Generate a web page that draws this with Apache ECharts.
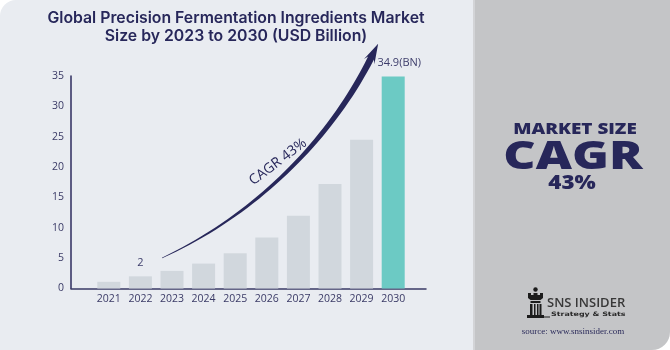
<!DOCTYPE html>
<html>
<head>
<meta charset="utf-8">
<script src="https://cdn.jsdelivr.net/npm/echarts@6/dist/echarts.min.js"></script>
<style>
  html, body { margin: 0; padding: 0; background: #ffffff; }
  #wrap { position: relative; width: 670px; height: 350px; overflow: hidden; }
  .panel-left { position: absolute; left: 0; top: 0; width: 473px; height: 350px; background: #e9ecf1; border-top-left-radius: 16px; }
  .panel-edge { position: absolute; left: 473px; top: 0; width: 2px; height: 350px; background: #d3d4d7; }
  .panel-right { position: absolute; left: 475px; top: 0; width: 195px; height: 350px; background: #c4c5c7; border-bottom-right-radius: 18px; }
  #chart { position: absolute; left: 0; top: 0; width: 670px; height: 350px; }
</style>
</head>
<body>
<div id="wrap">
  <div class="panel-left"></div>
  <div class="panel-edge"></div>
  <div class="panel-right"></div>
  <div id="chart"></div>
</div>
<script>
// Market size by year, USD billion
const years = ['2021', '2022', '2023', '2024', '2025', '2026', '2027', '2028', '2029', '2030'];
const marketSize = [1.1, 2, 2.9, 4.1, 5.8, 8.4, 12.0, 17.2, 24.5, 34.9];
// Years whose bar carries a value label, and how the label reads
const labelledYears = { '2022': '2', '2030': '34.9(BN)' };
const highlightYear = '2030';
const yMin = 0, yMax = 35, yStep = 5;

const navy = '#27275a';
const barGray = '#d1d7dd';
const teal = '#6ccac4';

const chart = echarts.init(document.getElementById('chart'), null, { renderer: 'canvas' });

const barData = marketSize.map((v, i) => {
  const y = years[i];
  const item = { value: v, itemStyle: { color: y === highlightYear ? teal : barGray } };
  if (labelledYears[y]) {
    item.label = {
      show: true,
      position: 'top',
      distance: 8,
      offset: y === highlightYear ? [6, 0] : [0, 0],
      formatter: labelledYears[y],
      color: '#3d3d6b',
      fontSize: 11,
      fontFamily: 'Open Sans'
    };
  }
  return item;
});

// Tapered growth arrow drawn as a polygon along a cubic curve
function cubic(p0, p1, p2, p3, t) {
  const u = 1 - t;
  return [
    u*u*u*p0[0] + 3*u*u*t*p1[0] + 3*u*t*t*p2[0] + t*t*t*p3[0],
    u*u*u*p0[1] + 3*u*u*t*p1[1] + 3*u*t*t*p2[1] + t*t*t*p3[1]
  ];
}
function arrowPolygon() {
  const p0 = [162, 258], p1 = [255, 215], p2 = [330, 140], p3 = [371, 58];
  const left = [], right = [];
  const n = 40;
  for (let i = 0; i <= n; i++) {
    const t = i / n;
    const a = cubic(p0, p1, p2, p3, Math.max(0, t - 0.01));
    const b = cubic(p0, p1, p2, p3, Math.min(1, t + 0.01));
    let dx = b[0] - a[0], dy = b[1] - a[1];
    const len = Math.hypot(dx, dy) || 1;
    dx /= len; dy /= len;
    const nx = -dy, ny = dx;
    const hw = 0.3 + 3.0 * Math.pow(t, 0.9);
    const p = cubic(p0, p1, p2, p3, t);
    left.push([p[0] + nx * hw, p[1] + ny * hw]);
    right.push([p[0] - nx * hw, p[1] - ny * hw]);
  }
  // arrow head
  let dx = p3[0] - p2[0], dy = p3[1] - p2[1];
  const len = Math.hypot(dx, dy);
  dx /= len; dy /= len;
  const nx = -dy, ny = dx;
  const baseBack = [p3[0] - dx * 4, p3[1] - dy * 4];
  const tip = [p3[0] + dx * 16, p3[1] + dy * 16];
  const head = [
    [baseBack[0] + nx * 5.8, baseBack[1] + ny * 5.8],
    tip,
    [baseBack[0] - nx * 5.8, baseBack[1] - ny * 5.8]
  ];
  return left.concat(head).concat(right.reverse());
}

const option = {
  animation: false,
  title: {
    text: 'Global Precision Fermentation Ingredients Market\nSize by 2023 to 2030 (USD Billion)',
    left: 231,
    top: 4,
    textAlign: 'center',
    textStyle: {
      color: navy,
      fontSize: 15.8,
      fontWeight: 600,
      fontFamily: 'Inter',
      lineHeight: 18
    }
  },
  grid: [
    { left: 93, width: 316, top: 76, bottom: 61.5 },
    { left: 71, right: 244, top: 76, bottom: 61.5 }
  ],
  xAxis: [
    {
      type: 'category',
      data: years,
      gridIndex: 0,
      axisLine: { show: false },
      axisTick: { show: false },
      axisLabel: { color: '#3a3a66', fontSize: 10.5, fontFamily: 'Open Sans', margin: 5 }
    },
    {
      type: 'value',
      gridIndex: 1,
      min: 0, max: 1,
      axisLine: { show: true, lineStyle: { color: '#3a3a66', width: 1.5 } },
      axisTick: { show: false },
      axisLabel: { show: false },
      splitLine: { show: false }
    }
  ],
  yAxis: [
    {
      type: 'value',
      gridIndex: 0,
      min: yMin, max: yMax, interval: yStep,
      offset: 22,
      axisLine: { show: true, lineStyle: { color: '#2c2c5e', width: 1.5 } },
      axisTick: { show: false },
      splitLine: { show: false },
      axisLabel: { color: '#3a3a66', fontSize: 10.5, fontFamily: 'Open Sans', margin: 7 }
    },
    {
      type: 'value',
      gridIndex: 1,
      show: false,
      min: 0, max: 1
    }
  ],
  series: [
    {
      type: 'bar',
      xAxisIndex: 0,
      yAxisIndex: 0,
      barWidth: 23,
      data: barData
    }
  ],
  graphic: [
    {
      type: 'polygon',
      shape: { points: arrowPolygon() },
      style: { fill: navy },
      z: 10
    },
    {
      type: 'text',
      x: 278,
      y: 162,
      rotation: 37 * Math.PI / 180,
      style: {
        text: 'CAGR 43%',
        fill: navy,
        font: '14px "Open Sans"',
        align: 'center',
        verticalAlign: 'middle'
      },
      z: 10
    },
    // side panel headline
    {
      type: 'text', x: 575, y: 129, scaleX: 1.18,
      style: { text: 'MARKET SIZE', fill: navy, font: '800 16px "Open Sans"', align: 'center', verticalAlign: 'middle' }
    },
    {
      type: 'text', x: 573, y: 158, scaleX: 1.28,
      style: { text: 'CAGR', fill: navy, font: '800 39px "Open Sans"', align: 'center', verticalAlign: 'middle' }
    },
    {
      type: 'text', x: 572, y: 183.5, scaleX: 1.12,
      style: { text: '43%', fill: navy, font: '800 20px "Open Sans"', align: 'center', verticalAlign: 'middle' }
    },
    // logo mark: rook
    {
      type: 'group',
      children: [
        { type: 'circle', shape: { cx: 535.5, cy: 289.5, r: 2.2 }, style: { fill: '#1c1c1c' } },
        { type: 'polygon', shape: { points: [[528, 293], [531, 293], [531, 295], [533.5, 295], [533.5, 293], [537.5, 293], [537.5, 295], [540, 295], [540, 293], [543, 293], [543, 298], [540.5, 300], [530.5, 300], [528, 298]] }, style: { fill: '#1c1c1c' } },
        { type: 'rect', shape: { x: 530.5, y: 301, width: 10, height: 2 }, style: { fill: '#1c1c1c' } },
        { type: 'rect', shape: { x: 530, y: 304, width: 2.5, height: 11 }, style: { fill: '#1c1c1c' } },
        { type: 'rect', shape: { x: 534, y: 304, width: 1.5, height: 11 }, style: { fill: '#1c1c1c' } },
        { type: 'rect', shape: { x: 537, y: 304, width: 1.5, height: 11 }, style: { fill: '#1c1c1c' } },
        { type: 'rect', shape: { x: 539.5, y: 304, width: 2, height: 11 }, style: { fill: '#1c1c1c' } },
        { type: 'rect', shape: { x: 527, y: 315, width: 17, height: 3 }, style: { fill: '#1c1c1c' } },
        { type: 'rect', shape: { x: 544, y: 316.5, width: 6, height: 1 }, style: { fill: '#1c1c1c' } }
      ]
    },
    {
      type: 'text', x: 547, y: 303.5,
      style: { text: 'SNS INSIDER', fill: '#383838', font: '600 13px "Open Sans"', align: 'left', verticalAlign: 'middle' }
    },
    {
      type: 'text', x: 551, y: 314, scaleX: 1.32,
      style: { text: 'Strategy & Stats', fill: '#2a2a2a', font: '700 6px "DejaVu Sans"', align: 'left', verticalAlign: 'middle' }
    },
    {
      type: 'text', x: 573, y: 332,
      style: { text: 'source: www.snsinsider.com', fill: '#2a2a5a', font: '9px "Liberation Serif"', align: 'center', verticalAlign: 'middle' }
    }
  ]
};

chart.setOption(option);
</script>
</body>
</html>
